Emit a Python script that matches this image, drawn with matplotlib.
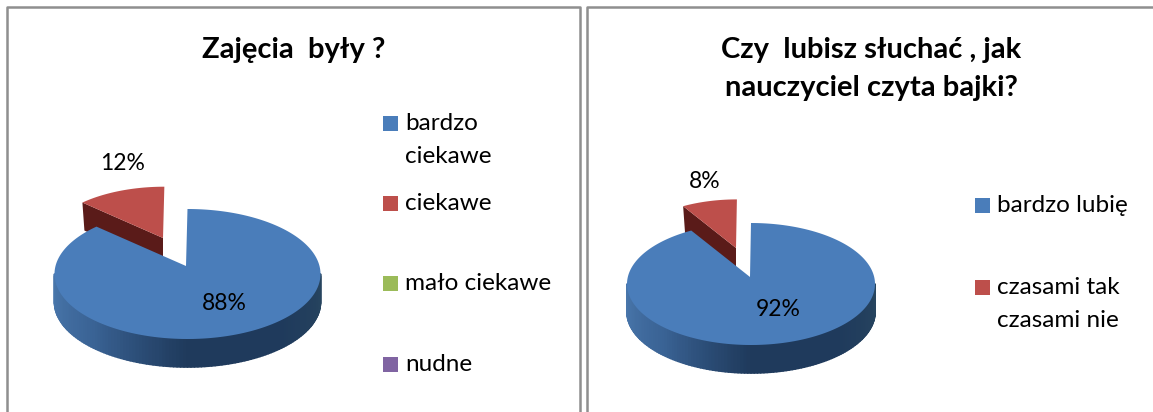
import matplotlib
matplotlib.use('Agg')
from matplotlib.collections import PolyCollection
from matplotlib.colors import LinearSegmentedColormap
import matplotlib.pyplot as plt
import numpy as np

plt.rcParams['font.family'] = ['Lato', 'DejaVu Sans']

left_title = 'Zajęcia  były ?'
left_categories = ['bardzo\nciekawe', 'ciekawe', 'mało ciekawe', 'nudne']
left_values = [88, 12, 0, 0]

right_title = 'Czy  lubisz słuchać , jak\nnauczyciel czyta bajki?'
right_categories = ['bardzo lubię', 'czasami tak\nczasami nie']
right_values = [92, 8]

COLORS = ['#4a7dba', '#bd4f4b', '#9bbb59', '#8064a2']
BORDER = '#8f8f8f'
side_cmap = LinearSegmentedColormap.from_list(
    'side', ['#4b79ae', '#3a6395', '#1f3a5c', '#1f3a5c', '#27455f'])


def ellipse_points(cx, cy, rx, ry, angles):
    rad = np.radians(angles)
    return np.column_stack([cx + rx * np.cos(rad), cy - ry * np.sin(rad)])


def draw_pie(ax, values, center, radii, tip, depth, explode, labels_at):
    cx, cy = center
    rx, ry = radii
    total = sum(values)
    main_end = 90 - 360 * values[0] / total

    # exploded slice goes first, the big one covers the bottom of its wall
    arc = ellipse_points(cx, cy, rx, ry, np.linspace(main_end, 90 - 360, 40))
    red_tip = np.array(tip) + explode
    red_arc = red_tip + 0.9 * (arc - np.array(tip))
    outer = red_arc[0]
    ax.fill([outer[0], red_tip[0], red_tip[0], outer[0] + 2],
            [outer[1], red_tip[1], red_tip[1] + depth, outer[1] + depth],
            color='#5a1b19', lw=0, zorder=2)
    ax.fill(*np.vstack([red_tip, red_arc]).T, color=COLORS[1], lw=0, zorder=3)

    # side of the big slice, front half only
    angles = np.linspace(180, 360, 121)
    rim = ellipse_points(cx, cy, rx, ry, angles)
    quads = [[rim[i], rim[i + 1], rim[i + 1] + [0, depth], rim[i] + [0, depth]]
             for i in range(len(rim) - 1)]
    shade = side_cmap(np.linspace(0, 1, len(quads)))
    ax.add_collection(PolyCollection(quads, facecolors=shade, edgecolors=shade,
                                     linewidths=1.2, zorder=4))

    top = ellipse_points(cx, cy, rx, ry, np.linspace(90, main_end, 240))
    ax.fill(*np.vstack([tip, top]).T, color=COLORS[0], lw=0, zorder=5)

    for (x, y), value in zip(labels_at, values):
        ax.text(x, y, f'{value}%', fontsize=16.5, ha='center', va='center', zorder=6)


def draw_legend(ax, categories, square_x, text_x, rows):
    for i, (label, y) in enumerate(zip(categories, rows)):
        ax.fill([square_x, square_x + 15, square_x + 15, square_x],
                [y - 7, y - 7, y + 8, y + 8], color=COLORS[i], lw=0)
        ax.text(text_x, y - 10, label, fontsize=17.5, ha='left', va='top',
                linespacing=1.72)


fig = plt.figure(figsize=(11.53, 4.12), dpi=100)
ax = fig.add_axes([0, 0, 1, 1])
ax.set_xlim(0, 1153)
ax.set_ylim(412, 0)
ax.axis('off')

ax.plot([7, 7, 580, 580], [412, 7, 7, 412], color=BORDER, lw=1.8)
ax.plot([587, 587, 1153], [412, 7, 7], color=BORDER, lw=1.8)

ax.text(294, 50, left_title, fontsize=21, fontweight='bold', ha='center', va='center')
ax.text(871, 69, right_title, fontsize=21, fontweight='bold', ha='center', va='center',
        linespacing=1.55)

draw_pie(ax, left_values, center=(187.5, 274), radii=(133, 65), tip=(186, 266),
         depth=28, explode=np.array([-23, -28]),
         labels_at=[(224, 304), (123, 163)])
draw_pie(ax, right_values, center=(751, 284), radii=(124, 61), tip=(750, 277),
         depth=28, explode=np.array([-14, -29]),
         labels_at=[(778, 309), (705, 181)])

draw_legend(ax, left_categories, 383, 405, [123, 203, 283, 364])
draw_legend(ax, right_categories, 975, 997, [205, 287])

fig.savefig('out.png', dpi=100)
